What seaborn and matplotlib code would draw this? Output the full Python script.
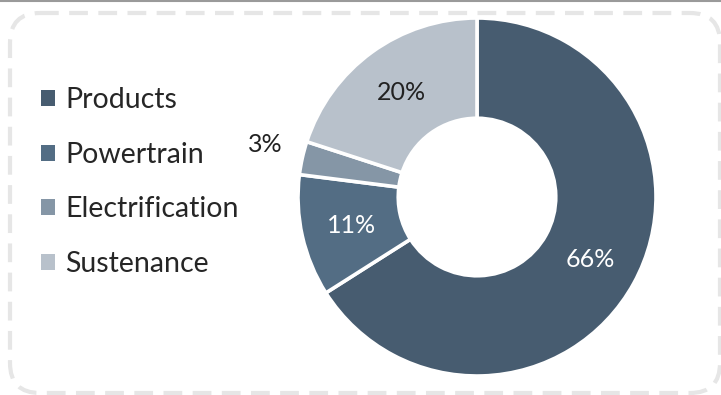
import matplotlib
matplotlib.use("Agg")
import matplotlib.pyplot as plt
import seaborn as sns
import numpy as np
from matplotlib.patches import FancyBboxPatch, Patch

# data
labels = ['Products', 'Powertrain', 'Electrification', 'Sustenance']
shares = [66, 11, 3, 20]
colors = ['#475c70', '#536d84', '#8596a6', '#b8c1cb']
pct_colors = ['white', 'white', '#222222', '#222222']

sns.set_theme(style="white")
plt.rcParams['font.family'] = ['Lato', 'DejaVu Sans']

W, H = 721, 395
fig = plt.figure(figsize=(W / 100, H / 100), dpi=100)

# background frame (pixel coords)
bg = fig.add_axes([0, 0, 1, 1])
bg.set_xlim(0, W)
bg.set_ylim(H, 0)
bg.axis('off')
frame = FancyBboxPatch((10, 13), 710, 380, boxstyle="round,pad=0,rounding_size=30",
                       fill=False, edgecolor='#e6e6e6', linewidth=3, linestyle=(0, (4.5, 2.5)))
bg.add_patch(frame)
bg.axhline(0.5, color='#9a9a9a', linewidth=1.5)

# donut
ax = fig.add_axes([298 / W, (H - 376) / H, 358 / W, 358 / H])
wedges, texts, autotexts = ax.pie(
    shares, colors=colors, startangle=90, counterclock=False,
    autopct='%d%%', pctdistance=0.72,
    wedgeprops=dict(width=0.56, edgecolor='white', linewidth=2.6),
    textprops=dict(fontsize=18))
for t, c in zip(autotexts, pct_colors):
    t.set_color(c)

# small slice label outside the ring
small = autotexts[2]
x, y = small.get_position()
r = np.hypot(x, y)
small.set_position((x / r * 1.21, y / r * 1.21 + 0.03))
ax.set_xlim(-1, 1)
ax.set_ylim(-1, 1)
ax.set_aspect('equal')

handles = [Patch(facecolor=c, edgecolor='none') for c in colors]
fig.legend(handles, labels, loc='upper left', bbox_to_anchor=(30 / W, 1 - 76 / H),
           frameon=False, fontsize=20.5, handlelength=0.49, handleheight=0.49,
           handletextpad=0.35, labelspacing=1.0, borderaxespad=0)

fig.savefig('out.png', dpi=100)
